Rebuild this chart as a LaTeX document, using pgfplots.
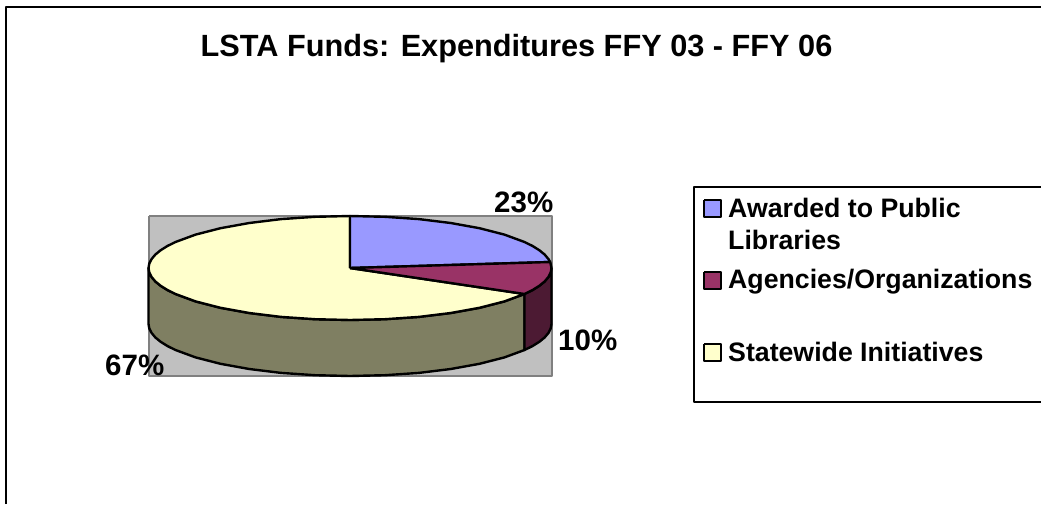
\documentclass[border=0pt]{standalone}
\usepackage{fontspec}
\setmainfont{Liberation Sans}
\usepackage{pgfplots}
\pgfplotsset{compat=1.18}
\definecolor{cblue}{HTML}{9999FF}
\definecolor{cmaroon}{HTML}{993366}
\definecolor{cyellow}{HTML}{FFFFCC}
\definecolor{colive}{HTML}{7F7F62}
\definecolor{cdark}{HTML}{4C1A33}
\definecolor{cgray}{HTML}{C0C0C0}
\definecolor{cgrayedge}{HTML}{808080}
\newcommand{\tsize}{\fontsize{29.5}{32}\selectfont\bfseries}
\newcommand{\lsize}{\fontsize{26.7}{30}\selectfont\bfseries}
\begin{document}
\begin{tikzpicture}
\begin{axis}[
  scale only axis, width=1041pt, height=504pt,
  xmin=0, xmax=1041, ymin=0, ymax=504, y dir=reverse,
  hide axis, clip=true,
  every axis plot/.append style={line join=round},
]
% full picture extent
\addplot[white, line width=0pt] coordinates {(0,0) (1041,0) (1041,504) (0,504) (0,0)};
% outer frame
\addplot[black, line width=2.4pt] coordinates {(6,504) (6,7) (1041,7)};
% plot area
\addplot[draw=cgrayedge, fill=cgray, line width=2.4pt] coordinates {(149,216) (552,216) (552,376) (149,376) (149,216)};
% side: olive
\addplot[draw=black, fill=colive, line width=2.4pt] coordinates {
(524.5,294) (504.4,301.4) (479.5,307.8) (450.75,313) (418.9,316.9) (385,319.2) (350,320) (315,319.2) (281.1,316.9) (249.25,313) (220.5,307.8) (195.6,301.4) (175.5,294) (167.4,290) (160.7,285.8) (155.4,281.5) (151.6,277) (149.3,272.5) (148.5,268)
(148.5,324) (149.3,328.5) (151.6,333) (155.4,337.5) (160.7,341.8) (167.4,346) (175.5,350) (195.6,357.4) (220.5,363.8) (249.25,369) (281.1,372.9) (315,375.2) (350,376) (385,375.2) (418.9,372.9) (450.75,369) (479.5,363.8) (504.4,357.4) (524.5,350) (524.5,294)};
% side: dark maroon
\addplot[draw=black, fill=cdark, line width=2.4pt] coordinates {
(551.5,268) (550.7,272.5) (548.4,277) (544.6,281.5) (539.3,285.8) (532.6,290) (524.5,294)
(524.5,350) (532.6,346) (539.3,341.8) (544.6,337.5) (548.4,333) (550.7,328.5) (551.5,324) (551.5,268)};
% top: yellow
\addplot[draw=black, fill=cyellow, line width=2.4pt] coordinates {
(350,268) (524.5,294) (504.4,301.4) (479.5,307.8) (450.75,313) (418.9,316.9) (385,319.2) (350,320) (315,319.2) (281.1,316.9) (249.25,313) (220.5,307.8) (195.6,301.4) (175.5,294) (167.4,290) (160.7,285.8) (155.4,281.5) (151.6,277) (149.3,272.5) (148.5,268) (149.3,263.5) (151.6,259) (155.4,254.5) (160.7,250.2) (167.4,246) (175.5,242) (195.6,234.6) (220.5,228.2) (249.25,223) (281.1,219.1) (315,216.8) (350,216) (350,268)};
% top: blue
\addplot[draw=black, fill=cblue, line width=2.4pt] coordinates {
(350,268) (350,216) (385,216.8) (418.9,219.1) (450.75,223) (479.5,228.2) (504.4,234.6) (524.5,242) (532.6,246) (539.3,250.2) (544.6,254.5) (548.4,259) (550.2,262) (350,268)};
% top: maroon
\addplot[draw=black, fill=cmaroon, line width=2.4pt] coordinates {
(350,268) (550.2,262) (551.5,268) (550.7,272.5) (548.4,277) (544.6,281.5) (539.3,285.8) (532.6,290) (524.5,294) (350,268)};
% legend frame
\addplot[black, line width=2.4pt] coordinates {(1041,187) (694,187) (694,402) (1041,402)};
% legend swatches
\addplot[draw=black, fill=cblue, line width=2.2pt] coordinates {(704,200) (721,200) (721,217) (704,217) (704,200)};
\addplot[draw=black, fill=cmaroon, line width=2.2pt] coordinates {(704,272) (721,272) (721,289) (704,289) (704,272)};
\addplot[draw=black, fill=cyellow, line width=2.2pt] coordinates {(704,344) (721,344) (721,361) (704,361) (704,344)};
% text
\node[anchor=base, inner sep=0pt] at (axis cs:516.5,56) {\fontsize{30.7}{32}\selectfont\bfseries LSTA Funds: Expenditures FFY 03 - FFY 06};
\node[anchor=base west, inner sep=0pt] at (axis cs:494,212) {\tsize 23\%};
\node[anchor=base west, inner sep=0pt] at (axis cs:558,350) {\tsize 10\%};
\node[anchor=base west, inner sep=0pt] at (axis cs:105,375) {\tsize 67\%};
\node[anchor=base west, inner sep=0pt] at (axis cs:728,217) {\lsize Awarded to Public};
\node[anchor=base west, inner sep=0pt] at (axis cs:728,249) {\lsize Libraries};
\node[anchor=base west, inner sep=0pt] at (axis cs:728,288) {\lsize Agencies/Organizations};
\node[anchor=base west, inner sep=0pt] at (axis cs:728,361) {\lsize Statewide Initiatives};
\end{axis}
\end{tikzpicture}
\end{document}
